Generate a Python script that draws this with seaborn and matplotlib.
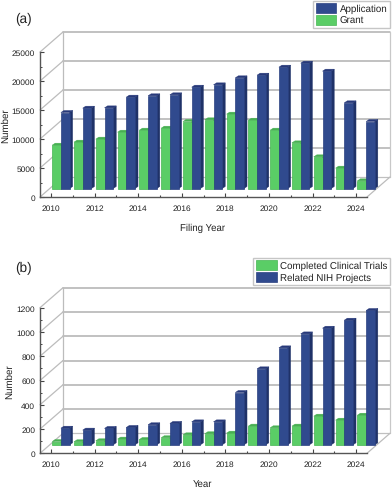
import matplotlib
matplotlib.use('Agg')
import matplotlib.pyplot as plt
import pandas as pd
import seaborn as sns
from matplotlib.patches import Patch, Polygon
from matplotlib.transforms import Affine2D, IdentityTransform

years = list(range(2010, 2025))
tick_years = [str(y) if y % 2 == 0 else '' for y in years]

application = [13100, 13850, 13900, 15750, 15980, 16150, 17470, 17870,
               19080, 19540, 20920, 21610, 20230, 14770, 11550]
grant = [7470, 7990, 8510, 9710, 10060, 10400, 11550, 11840,
         12820, 11780, 10060, 7870, 5460, 3510, 1320]

trials = [27, 25, 33, 47, 44, 58, 82, 91, 96, 154, 140, 154, 236, 203, 244]
nih = [137, 121, 135, 143, 165, 176, 189, 189, 431, 626, 799, 914, 961, 1027, 1107]

BLUE = '#304a8e'
GREEN = '#5acd66'
# edge, side, top
SHADES = {BLUE: ('#2a4080', '#1f3268', '#27397a'), GREEN: ('#46b552', '#3fa64c', '#47b052')}

W, H = 392, 489
sns.set_theme(style='white')
plt.rcParams['font.family'] = ['Liberation Sans', 'DejaVu Sans']
plt.rcParams['text.color'] = '#222222'
plt.rcParams['text.hinting'] = 'no_hinting'

fig = plt.figure(figsize=(W / 100, H / 100), dpi=100, facecolor='white')
pixels = IdentityTransform()


def panel(top_px, bottom_px, first, second, names, ymax, ystep, xlabel, letter, letter_y,
          ylabel_x, xlabel_y, legend_order, legend_box):
    left_px, right_px = 40, 367
    ax = fig.add_axes([left_px / W, 1 - bottom_px / H, (right_px - left_px) / W,
                       (bottom_px - top_px) / H])
    df = pd.DataFrame({'year': years * 2,
                       'value': first + second,
                       'series': [names[0]] * 15 + [names[1]] * 15})
    sns.barplot(data=df, x='year', y='value', hue='series', palette=[GREEN, BLUE], hue_order=names,
                width=0.8, gap=0, saturation=1, legend=False, ax=ax, zorder=5)
    ax.set_xlim(-0.5, 14.5)
    ax.set_ylim(0, ymax)

    # back wall and floor, offset in pixels like the 3D look of the original
    deep_x, deep_y = 23, 20
    back = ax.transData + Affine2D().translate(deep_x, deep_y)
    ticks = list(range(0, ymax + 1, ystep))
    for t in ticks:
        if t > 0:
            ax.plot([-0.5, 14.5], [t, t], transform=back, color='#b0b0b0', lw=1.1, clip_on=False, zorder=1)
        else:
            ax.plot([-0.5, 14.5], [t, t], transform=back, color='#c0c0c0', lw=0.9, clip_on=False, zorder=1)
        x0, y0 = ax.transData.transform((-0.5, t))
        ax.plot([x0, x0 + deep_x], [y0, y0 + deep_y], transform=pixels, color='#bcbcbc', lw=0.9,
                clip_on=False, zorder=1)
    ax.plot([-0.5, -0.5], [0, ymax], transform=back, color='#bcbcbc', lw=0.9, clip_on=False, zorder=1)
    ax.plot([14.5, 14.5], [0, ymax], transform=back, color='#c8c8c8', lw=0.9, clip_on=False, zorder=1)
    x1, y1 = ax.transData.transform((14.5, 0))
    ax.plot([x1, x1 + deep_x], [y1, y1 + deep_y], transform=pixels, color='#bcbcbc', lw=0.9,
            clip_on=False, zorder=1)

    # move the bars into the middle of the depth, then add side and top faces
    bar_x, bar_y = 10, 8.5
    side_x, side_y = 3, 2
    mid = ax.transData + Affine2D().translate(bar_x, bar_y)
    for p in list(ax.patches):
        color = matplotlib.colors.to_hex(p.get_facecolor())
        edge, side, cap = SHADES[BLUE if color == BLUE else GREEN]
        p.set_transform(mid)
        p.set_edgecolor(edge)
        p.set_linewidth(0.5)
        p.set_clip_on(False)
        p.set_zorder(5)
        (xa, ya), (xb, yb) = mid.transform(
            [(p.get_x(), 0), (p.get_x() + p.get_width(), p.get_height())])
        ax.add_patch(Polygon([(xb, ya), (xb + side_x, ya + side_y), (xb + side_x, yb + side_y), (xb, yb)],
                             closed=True, transform=pixels, facecolor=side, edgecolor=side, lw=0.3,
                             clip_on=False, zorder=4))
        ax.add_patch(Polygon([(xa, yb), (xa + side_x, yb + side_y), (xb + side_x, yb + side_y), (xb, yb)],
                             closed=True, transform=pixels, facecolor=cap, edgecolor=cap, lw=0.3,
                             clip_on=False, zorder=4))

    sns.despine(ax=ax)
    for s in ['left', 'bottom']:
        ax.spines[s].set_color('#555555')
        ax.spines[s].set_linewidth(1.0)
        ax.spines[s].set_zorder(6)

    ax.set_yticks(ticks)
    ax.set_yticks([t + ystep / 2 for t in ticks[:-1]], minor=True)
    ax.set_xticks(range(15))
    ax.set_xticklabels(tick_years)
    ax.tick_params(axis='both', which='major', direction='in', length=3, width=0.8, color='#444444',
                   labelsize=6, pad=3.5, labelcolor='#222222', left=True, bottom=True)
    ax.tick_params(axis='x', pad=5)
    ax.tick_params(axis='y', which='minor', direction='in', length=1.5, width=0.7, color='#444444', left=True)
    for i, t in enumerate(ax.xaxis.get_major_ticks()):
        t.tick1line.set_markersize(3 if i % 2 == 0 else 1.5)
    ax.set_xlabel('')
    ax.set_ylabel('')

    fig.text(203 / W, 1 - xlabel_y / H, xlabel, fontsize=6.9, ha='center', va='center')
    fig.text(ylabel_x / W, 1 - (top_px + bottom_px) / 2 / H, 'Number', fontsize=7, rotation=90,
             ha='center', va='center')
    fig.text(15 / W, 1 - letter_y / H, letter, fontsize=9.8, va='center')

    handles = [Patch(facecolor=c, edgecolor=SHADES[c][0], lw=0.5, label=n)
               for n, c in legend_order]
    bx0, by0, bx1, by1 = legend_box
    leg = fig.legend(handles=handles, loc='upper right',
                     bbox_to_anchor=(bx1 / W, 1 - by0 / H), fontsize=7, frameon=True,
                     fancybox=False, borderaxespad=0, borderpad=0.25, labelspacing=0.2,
                     handlelength=2.15, handleheight=1.1, handletextpad=0.35)
    leg.get_frame().set_edgecolor('#b8b8b8')
    leg.get_frame().set_linewidth(1.0)


panel(53, 198, grant, application, ['Grant', 'Application'], 25000, 5000,
      'Filing Year', '(a)', 19, 6, 228,
      [('Application', BLUE), ('Grant', GREEN)], (314, 2, 390, 28))
panel(308.7, 454.3, trials, nih, ['Completed Clinical Trials', 'Related NIH Projects'],
      1200, 200, 'Year', '(b)', 268, 10, 484,
      [('Completed Clinical Trials', GREEN), ('Related NIH Projects', BLUE)], (254, 259, 390, 285))

fig.savefig('out.png', dpi=100)
